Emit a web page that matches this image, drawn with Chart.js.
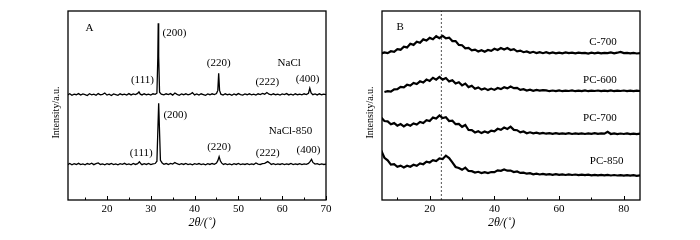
<!DOCTYPE html>
<html>
<head>
<meta charset="utf-8">
<script src="https://cdn.jsdelivr.net/npm/chart.js@4"></script>
<style>
  body { margin: 0; background: #fff; }
  .panel { position: absolute; top: 0; width: 350px; height: 240px; }
</style>
</head>
<body>
<div class="panel" style="left:0"><canvas id="chartA" width="350" height="240"></canvas></div>
<div class="panel" style="left:350px"><canvas id="chartB" width="350" height="240"></canvas></div>
<script>
// ---- データ ----

// A: NaCl / NaCl-850 の XRD パターン [2θ, 強度(任意単位)]
const naclData = [
  [11,55.6],[11.5,56.2],[12,55.4],[12.5,56.0],[13,55.7],[13.5,56.3],[14,55.5],[14.5,56.1],[15,55.8],[15.5,55.3],
  [16,56.2],[16.5,55.6],[17,56.0],[17.5,55.4],[18,56.3],[18.5,55.7],[19,55.9],[19.5,56.6],[20,55.5],[20.5,56.0],
  [21,55.3],[21.5,56.1],[22,55.8],[22.5,55.4],[23,56.2],[23.5,55.7],[24,56.0],[24.5,55.5],[25,56.3],[25.5,55.6],
  [26,56.1],[26.5,55.8],[27,56.4],[27.3,57.2],[27.6,56.0],[28,55.6],[28.5,56.2],[29,55.7],[29.5,56.0],[30,55.5],
  [30.5,56.2],[31,55.9],[31.4,56.5],[31.6,75],[31.7,93.5],[31.8,76],[32.0,57],[32.4,56.0],[33,55.6],[33.5,56.2],
  [34,55.8],[34.5,56.3],[35,55.5],[35.5,56.6],[36,55.9],[36.5,55.4],[37,56.1],[37.5,55.7],[38,56.2],[38.5,55.6],
  [39,56.0],[39.5,56.8],[40,55.6],[40.5,56.1],[41,55.5],[41.5,56.2],[42,55.8],[42.5,55.4],[43,56.1],[43.5,55.7],
  [44,56.2],[44.5,55.8],[45,56.3],[45.3,58],[45.5,67],[45.7,58],[46,56.0],[46.5,55.5],[47,56.2],[47.5,55.7],
  [48,56.0],[48.5,55.4],[49,56.1],[49.5,55.6],[50,56.3],[50.5,55.8],[51,55.5],[51.5,56.1],[52,55.7],[52.5,56.2],
  [53,55.6],[53.5,56.0],[54,55.5],[54.5,56.2],[55,55.8],[55.5,56.4],[56,56.0],[56.5,56.9],[57,56.0],[57.5,55.6],
  [58,56.2],[58.5,55.7],[59,56.0],[59.5,55.5],[60,56.1],[60.5,55.8],[61,56.3],[61.5,55.6],[62,56.0],[62.5,55.5],
  [63,56.2],[63.5,55.7],[64,56.0],[64.5,55.6],[65,56.2],[65.5,55.8],[66,56.5],[66.3,59.1],[66.6,56.6],[67,55.7],
  [67.5,56.1],[68,55.6],[68.5,56.2],[69,55.7],[69.5,56.0],[70,55.8]
];
const nacl850Data = [
  [11,18.7],[11.5,19.3],[12,18.6],[12.5,19.2],[13,18.8],[13.5,19.4],[14,18.7],[14.5,19.1],[15,18.6],[15.5,19.3],
  [16,18.9],[16.5,19.5],[17,18.7],[17.5,19.2],[18,19.6],[18.5,18.8],[19,19.1],[19.5,18.6],[20,19.2],[20.5,18.8],
  [21,19.3],[21.5,18.7],[22,19.1],[22.5,18.6],[23,19.2],[23.5,18.9],[24,19.4],[24.5,18.7],[25,19.1],[25.5,18.6],
  [26,19.3],[26.5,18.8],[27,19.2],[27.4,20.2],[27.8,19.0],[28,18.7],[28.5,19.2],[29,18.8],[29.5,19.3],[30,18.7],
  [30.5,19.1],[31,19.3],[31.4,20.5],[31.6,36],[31.8,51.2],[32.0,36],[32.2,21],[32.6,19.6],[33,18.9],[33.5,19.3],
  [34,18.8],[34.5,19.4],[35,19.0],[35.5,19.8],[36,19.2],[36.5,18.7],[37,19.2],[37.5,18.8],[38,19.3],[38.5,18.7],
  [39,19.1],[39.5,18.6],[40,19.2],[40.5,18.9],[41,19.3],[41.5,18.7],[42,19.1],[42.5,18.6],[43,19.2],[43.5,18.8],
  [44,19.3],[44.5,18.9],[45,19.6],[45.3,20.8],[45.6,22.9],[45.9,20.6],[46.2,19.5],[46.6,18.8],[47,19.2],[47.5,18.7],
  [48,19.1],[48.5,18.6],[49,19.2],[49.5,18.8],[50,19.3],[50.5,18.7],[51,19.1],[51.5,18.8],[52,19.2],[52.5,18.7],
  [53,19.1],[53.5,18.8],[54,19.6],[54.5,19.0],[55,18.8],[55.5,19.2],[56,19.4],[56.7,20.3],[57.2,19.5],[57.5,18.8],
  [58,19.2],[58.5,18.7],[59,19.1],[59.5,18.8],[60,19.2],[60.5,18.7],[61,19.1],[61.5,18.8],[62,19.3],[62.5,18.7],
  [63,19.1],[63.5,18.8],[64,19.2],[64.5,18.7],[65,19.1],[65.5,18.9],[66,19.4],[66.4,20.4],[66.7,21.5],[67.0,19.9],
  [67.5,19.0],[68,19.2],[68.5,18.7],[69,19.1],[69.5,18.8],[70,19.0]
];

// B: 炭素試料の XRD パターン（2θ は 1° 刻み）
const thetaB = [
  5,6,7,8,9,10,11,12,13,14,15,16,17,18,19,20,21,22,23,24,25,26,27,28,29,30,
  31,32,33,34,35,36,37,38,39,40,41,42,43,44,45,46,47,48,49,50,51,52,53,54,55,
  56,57,58,59,60,61,62,63,64,65,66,67,68,69,70,71,72,73,74,75,76,77,78,79,80,
  81,82,83,84,85
];
const c700 = [
  146.5,147.6,146.9,148.8,148.2,150.9,150.3,153.4,152.6,156.2,155.1,158.3,157.2,160.6,159.4,162.1,160.7,163.8,161.9,164.2,161.6,162.4,158.9,158.9,155.1,154.8,
  151.7,152.1,149.6,150.4,148.5,149.8,148.3,150.0,149.1,151.2,150.0,152.0,150.5,151.9,150.0,150.8,148.7,149.4,147.8,148.6,147.2,148.2,147.0,147.9,146.8,
  147.8,146.7,147.5,146.6,147.4,146.7,147.5,146.8,147.3,146.6,147.4,146.8,147.2,146.5,147.3,146.7,147.4,146.6,147.2,146.8,147.5,146.7,147.3,148.1,146.9,
  147.2,146.6,147.1,146.5,146.9
];
const pc600 = [
  null,108.0,108.9,108.4,110.6,110.8,113.1,112.6,115.2,114.4,117.1,116.0,118.7,117.5,120.4,119.1,122.2,120.3,123.0,120.4,121.9,118.6,119.8,116.5,117.7,114.6,
  116.4,112.9,114.2,111.3,112.6,110.4,111.6,109.9,111.4,110.1,112.0,110.9,112.8,111.6,113.5,111.8,112.2,110.1,110.8,109.4,110.3,109.2,110.0,109.3,109.9,
  109.6,108.8,109.5,108.9,109.6,108.8,109.4,109.0,109.6,108.8,109.3,108.9,109.6,108.8,109.4,109.0,109.5,108.8,109.3,108.9,109.6,108.8,109.4,109.0,109.5,
  108.9,109.3,108.8,109.4,109.0
];
const pc700 = [
  82.5,79.0,78.6,75.7,76.9,74.3,75.9,73.6,75.7,74.3,76.6,75.4,78.0,76.9,79.9,79.0,82.4,81.5,84.6,81.9,82.7,79.0,79.3,75.8,76.1,73.2,
  75.0,70.0,69.8,67.5,68.8,66.9,68.5,67.3,69.4,68.6,71.2,70.2,72.4,71.0,73.3,70.1,69.8,67.6,68.5,66.8,67.7,66.6,67.3,66.4,67.1,
  66.3,66.9,66.2,66.8,66.1,66.7,66.2,66.8,66.0,66.6,66.1,66.7,66.0,66.6,66.2,66.8,66.1,66.6,66.3,68.2,66.0,66.6,65.9,66.5,66.0,
  66.6,65.9,66.4,65.8,66.3
];
const pc850 = [
  49.5,42.2,39.6,35.4,35.8,33.2,34.4,32.6,34.3,33.3,35.3,34.2,36.6,35.8,38.4,37.5,39.9,38.9,41.6,41.0,44.4,42.0,37.6,33.0,32.0,30.2,
  32.3,29.0,28.8,27.4,28.2,26.9,27.8,26.9,28.0,27.8,29.6,29.2,30.6,29.3,29.5,28.0,28.5,27.1,27.4,26.3,26.8,25.7,26.3,25.5,26.1,
  25.4,25.9,25.2,25.8,25.1,25.7,25.0,25.6,25.0,25.5,24.8,25.4,24.8,25.3,24.7,25.2,24.6,25.2,24.6,25.1,24.5,25.0,24.5,24.9,24.4,
  24.9,24.3,24.8,24.2,24.6
];
// 参照線（2θ ≈ 23.6°）
const refLineTheta = 23.6;

// 目盛り
const majorTicksA = [20, 30, 40, 50, 60, 70];
const minorTicksA = [15, 25, 35, 45, 55, 65];
const majorTicksB = [20, 40, 60, 80];
const minorTicksB = [10, 30, 50, 70];

// 軸タイトル
const xTitle = "2θ/(˚)";
const yTitle = "Intensity/a.u.";

// 注記（データ座標上のアンカー）
const notesA = [
  { text: "A", x: 16, y: 91 },
  { text: "(200)", x: 35.4, y: 88.5 },
  { text: "(111)", x: 28.1, y: 63.5 },
  { text: "(220)", x: 45.5, y: 72.6 },
  { text: "NaCl", x: 61.6, y: 72.6 },
  { text: "(222)", x: 56.6, y: 62.6 },
  { text: "(400)", x: 65.8, y: 63.9 },
  { text: "(200)", x: 35.6, y: 45 },
  { text: "NaCl-850", x: 61.9, y: 36.7 },
  { text: "(111)", x: 27.8, y: 25 },
  { text: "(220)", x: 45.6, y: 28.2 },
  { text: "(222)", x: 56.7, y: 25 },
  { text: "(400)", x: 66.0, y: 26.5 },
];
const notesB = [
  { text: "B", x: 10.9, y: 172.7 },
  { text: "C-700", x: 73.6, y: 158.3 },
  { text: "PC-600", x: 72.6, y: 120 },
  { text: "PC-700", x: 72.6, y: 81.7 },
  { text: "PC-850", x: 74.7, y: 39 },
];

// ---- 描画 ----
const SERIF = "'Liberation Serif', 'Times New Roman', serif";
Chart.defaults.font.family = SERIF;
Chart.defaults.font.size = 11;
Chart.defaults.color = "#000";

const toPoints = (pairs) => pairs.map(([x, y]) => ({ x, y }));
const zipB = (ys) => thetaB.map((x, i) => ({ x, y: ys[i] }));

/**
 * 枠線・内向き目盛り・軸タイトル・注記を描くプラグインを作る。
 * titleX は x 軸タイトルの中心（データ座標）。
 */
const makeFrame = (major, minor, notes, titleX) => ({
  id: "frame",
  afterDatasetsDraw(chart) {
    const { ctx, chartArea: a, scales: { x, y } } = chart;
    ctx.save();
    ctx.strokeStyle = "#000";
    ctx.lineWidth = 1.3;
    ctx.strokeRect(a.left, a.top, a.right - a.left, a.bottom - a.top);
    ctx.lineWidth = 1;
    const tick = (v, len) => {
      const px = Math.round(x.getPixelForValue(v)) + 0.5;
      ctx.beginPath();
      ctx.moveTo(px, a.bottom);
      ctx.lineTo(px, a.bottom - len);
      ctx.stroke();
    };
    major.forEach((v) => tick(v, 4));
    minor.forEach((v) => tick(v, 2.5));

    ctx.fillStyle = "#000";
    ctx.textAlign = "center";
    ctx.textBaseline = "middle";
    ctx.font = "11px " + SERIF;
    notes.forEach((n) => ctx.fillText(n.text, x.getPixelForValue(n.x), y.getPixelForValue(n.y)));

    // x 軸タイトル
    ctx.font = "italic 12px " + SERIF;
    ctx.fillText(xTitle, x.getPixelForValue(titleX), a.bottom + 23);

    // y 軸タイトル（回転）
    ctx.font = "10px " + SERIF;
    ctx.translate(a.left - 12, (a.top + a.bottom) / 2 + 7);
    ctx.rotate(-Math.PI / 2);
    ctx.fillText(yTitle, 0, 0);
    ctx.restore();
  },
});

const lineSet = (data, width) => ({
  data,
  borderColor: "#000",
  borderWidth: width,
  pointRadius: 0,
  tension: 0,
  fill: false,
  spanGaps: false,
});

const makeOptions = (xmin, xmax, ymax, majors, padLeft, padRight) => ({
  responsive: false,
  animation: false,
  layout: { padding: { left: padLeft, right: padRight, top: 11, bottom: 0 } },
  plugins: { legend: { display: false }, tooltip: { enabled: false } },
  scales: {
    x: {
      type: "linear",
      min: xmin,
      max: xmax,
      grid: { display: false },
      border: { display: false },
      ticks: { padding: -5, font: { size: 11 } },
      afterBuildTicks: (s) => { s.ticks = majors.map((v) => ({ value: v })); },
      afterFit: (s) => { s.height = 40; },
    },
    y: {
      min: 0,
      max: ymax,
      grid: { display: false },
      border: { display: false },
      ticks: { display: false },
      afterFit: (s) => { s.width = padLeft > 20 ? 23 : 23; },
    },
  },
});

new Chart(document.getElementById("chartA"), {
  type: "line",
  data: {
    datasets: [
      lineSet(toPoints(naclData), 1.3),
      lineSet(toPoints(nacl850Data), 1.3),
    ],
  },
  options: makeOptions(11.1, 70, 100, majorTicksA, 45, 24),
  plugins: [makeFrame(majorTicksA, minorTicksA, notesA, 41.7)],
});

new Chart(document.getElementById("chartB"), {
  type: "line",
  data: {
    datasets: [
      lineSet(zipB(c700), 2.2),
      lineSet(zipB(pc600), 2.2),
      lineSet(zipB(pc700), 2.2),
      lineSet(zipB(pc850), 2.2),
      {
        data: [{ x: refLineTheta, y: 0 }, { x: refLineTheta, y: 189 }],
        borderColor: "#555",
        borderWidth: 1,
        borderDash: [2, 2],
        pointRadius: 0,
      },
    ],
  },
  options: makeOptions(5.25, 85, 189, majorTicksB, 9, 60),
  plugins: [makeFrame(majorTicksB, minorTicksB, notesB, 42.2)],
});
</script>
</body>
</html>
